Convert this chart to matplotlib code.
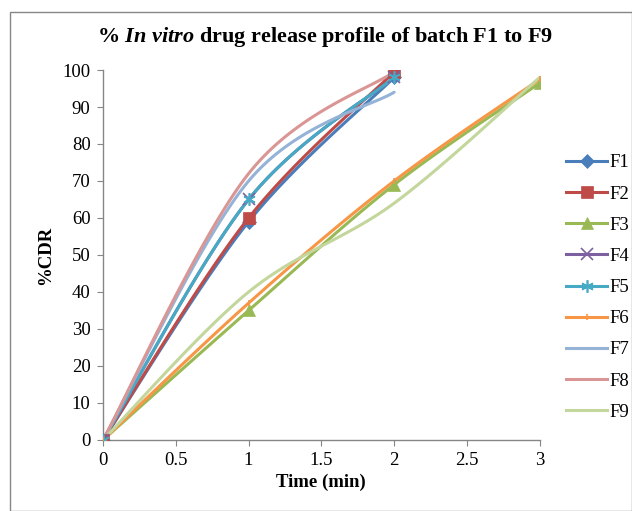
import numpy as np
import matplotlib
matplotlib.use("Agg")
import matplotlib.pyplot as plt
from matplotlib.patches import Rectangle

plt.rcParams['font.family'] = ['Liberation Serif', 'DejaVu Serif']
plt.rcParams['mathtext.fontset'] = 'custom'
plt.rcParams['mathtext.rm'] = 'Liberation Serif:bold'
plt.rcParams['mathtext.it'] = 'Liberation Serif:italic:bold'
plt.rcParams['mathtext.bf'] = 'Liberation Serif:bold'

# ---- data ----
series_names = ["F1", "F2", "F3", "F4", "F5", "F6", "F7", "F8", "F9"]
time_short = [0, 1, 2]
time_long = [0, 1, 2, 3]
F1 = [0, 59, 98]
F2 = [0, 60, 99.5]
F3 = [0, 35, 69, 96.5]
F4 = [0, 65, 98]
F5 = [0, 65, 98]
F6 = [0, 37, 70, 97.5]
F7 = [0, 70, 94]
F8 = [0, 72, 99.5]
F9 = [0, 40, 64, 98]
x_ticks = [0, 0.5, 1, 1.5, 2, 2.5, 3]
y_ticks = list(range(0, 101, 10))

data = [
    (time_short, F1), (time_short, F2), (time_long, F3),
    (time_short, F4), (time_short, F5), (time_long, F6),
    (time_short, F7), (time_short, F8), (time_long, F9),
]
colors = ["#4A7EBB", "#BE4B48", "#98B954", "#7D60A0", "#46AAC5",
          "#F79646", "#95B3D7", "#D99694", "#C3D69B"]
markers = ["D", "s", "^", "x", (6, 2, 0), "|", None, None, None]
msizes = [7, 9, 9, 8, 9, 4, 0, 0, 0]


def smooth(xs, ys, n=40):
    """Bezier smoothing through the points (Excel-like)."""
    P = np.column_stack([xs, ys]).astype(float)
    out = [P[0]]
    m = len(P)
    for i in range(m - 1):
        p0 = P[i - 1] if i > 0 else P[i]
        p1 = P[i]
        p2 = P[i + 1]
        p3 = P[i + 2] if i + 2 < m else P[i + 1]
        c1 = p1 + (p2 - p0) / 6.0
        c2 = p2 - (p3 - p1) / 6.0
        t = np.linspace(0, 1, n)[1:, None]
        seg = ((1 - t) ** 3) * p1 + 3 * ((1 - t) ** 2) * t * c1 + 3 * (1 - t) * t ** 2 * c2 + t ** 3 * p2
        out.extend(seg)
    out = np.array(out)
    return out[:, 0], out[:, 1]


fig = plt.figure(figsize=(6.32, 5.11), dpi=100)
ax = fig.add_axes([0.163, 0.139, 0.691, 0.724])

for (xs, ys), name, c, mk, ms in zip(data, series_names, colors, markers, msizes):
    thin = mk in ('x', '|') or isinstance(mk, tuple)
    sx, sy = smooth(xs, ys)
    ax.plot(sx, sy, color=c, lw=2.2, solid_capstyle='round', zorder=2)
    ax.plot(xs, ys, linestyle='none', marker=mk if mk else None, color=c,
            markersize=ms, markeredgewidth=1.2 if thin else 0.5, zorder=3)
    ax.plot([], [], color=c, lw=2.2, marker=mk if mk else None,
            markersize=ms, markeredgewidth=1.2 if thin else 0.5, label=name)

ax.set_xlim(0, 3)
ax.set_ylim(0, 100)
ax.set_xticks(x_ticks)
ax.set_xticklabels(["0", "0.5", "1", "1.5", "2", "2.5", "3"])
ax.set_yticks(y_ticks)
ax.tick_params(axis='both', labelsize=13.5, length=4, color='#868686', direction='out', pad=5)
for s in ['top', 'right']:
    ax.spines[s].set_visible(False)
for s in ['left', 'bottom']:
    ax.spines[s].set_color('#868686')
    ax.spines[s].set_linewidth(1.0)

ax.set_xlabel("Time (min)", fontsize=13.5, fontweight='bold', labelpad=3)
ax.set_ylabel("%CDR", fontsize=13.5, fontweight='bold', labelpad=6)

fig.text(0.515, 0.927, r"% $\mathit{In\ vitro}$ drug release profile of batch F1 to F9",
         ha='center', va='center', fontsize=16, fontweight='bold')

leg = ax.legend(loc='center left', bbox_to_anchor=(1.043, 0.412), frameon=False,
                fontsize=13.5, handlelength=2.2, labelspacing=0.75, handletextpad=0.1,
                borderaxespad=0)

fig.patches.append(Rectangle((10 / 632, 0.0), 1 - 10.5 / 632, 1 - 12 / 511,
                             transform=fig.transFigure, fill=False,
                             edgecolor='#868686', lw=1.0))

fig.savefig("out.png", dpi=100)
